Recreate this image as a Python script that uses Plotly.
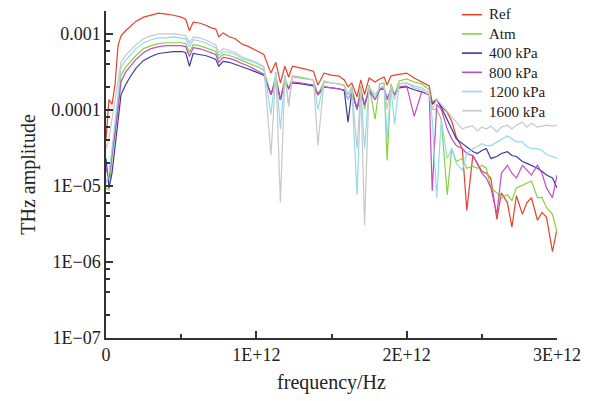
import plotly.graph_objects as go

# ---------------- data ----------------
freq_thz = [0.0, 0.02, 0.04, 0.06, 0.08, 0.1, 0.13, 0.16, 0.2, 0.25,
            0.3, 0.35, 0.4, 0.45, 0.5, 0.53, 0.555, 0.58, 0.62, 0.66,
            0.7, 0.73, 0.75, 0.78, 0.82, 0.86, 0.9, 0.95, 1.0, 1.05,
            1.097, 1.13, 1.16, 1.19, 1.215, 1.24, 1.3, 1.35, 1.38, 1.41,
            1.45, 1.5, 1.55, 1.585, 1.61, 1.635, 1.67, 1.695, 1.72, 1.75,
            1.79, 1.82, 1.85, 1.87, 1.895, 1.92, 1.95, 2.0, 2.05, 2.1,
            2.15, 2.17, 2.2, 2.23, 2.27, 2.3, 2.33, 2.37, 2.4, 2.44,
            2.47, 2.5, 2.53, 2.56, 2.6, 2.63, 2.67, 2.7, 2.73, 2.77,
            2.8, 2.83, 2.87, 2.9, 2.93, 2.97, 3.0]

ref = [4.16e-5, 1.37e-4, 1.18e-4, 2.13e-4, 7.0e-4, 9.42e-4, 1.10e-3, 1.23e-3, 1.47e-3, 1.66e-3,
       1.76e-3, 1.87e-3, 1.82e-3, 1.76e-3, 1.66e-3, 1.56e-3, 1.10e-3, 1.43e-3, 1.39e-3, 1.31e-3,
       1.20e-3, 1.16e-3, 9.15e-4, 1.03e-3, 9.15e-4, 8.62e-4, 7.43e-4, 6.80e-4, 6.04e-4, 5.36e-4,
       3.05e-4, 4.23e-4, 2.26e-4, 3.75e-4, 2.71e-4, 3.75e-4, 3.54e-4, 3.33e-4, 3.23e-4, 2.13e-4,
       3.05e-4, 2.87e-4, 2.79e-4, 2.48e-4, 2.01e-4, 2.26e-4, 1.49e-4, 2.48e-4, 1.59e-4, 2.63e-4,
       2.33e-4, 2.55e-4, 2.71e-4, 2.13e-4, 2.79e-4, 2.87e-4, 2.96e-4, 3.05e-4, 2.63e-4, 2.33e-4,
       2.07e-4, 1.25e-4, 1.37e-4, 1.11e-4, 9.28e-5, 7.1e-5, 4.42e-5, 3.1e-5, 4.76e-6, 2.51e-5,
       1.98e-5, 1.56e-5, 1.47e-5, 1.27e-5, 3.64e-6, 8.12e-6, 6.04e-6, 2.87e-6, 7.43e-6, 4.23e-6,
       6.04e-6, 7.0e-6, 3.54e-6, 4.48e-6, 3.87e-6, 1.37e-6, 2.71e-6]

atm = [9.42e-6, 8.88e-6, 2.3e-5, 5.6e-5, 1.18e-4, 2.87e-4, 3.64e-4, 4.23e-4, 5.2e-4, 6.40e-4,
       7.0e-4, 7.43e-4, 7.65e-4, 7.65e-4, 7.65e-4, 7.43e-4, 5.69e-4, 7.21e-4, 7.0e-4, 6.60e-4,
       6.22e-4, 5.86e-4, 4.76e-4, 5.36e-4, 5.2e-4, 4.90e-4, 4.48e-4, 4.10e-4, 3.75e-4, 3.33e-4,
       1.59e-4, 2.87e-4, 1.37e-4, 2.71e-4, 1.84e-4, 2.71e-4, 2.63e-4, 2.55e-4, 2.48e-4, 1.59e-4,
       2.33e-4, 2.26e-4, 2.20e-4, 2.13e-4, 1.59e-4, 2.01e-4, 1.02e-4, 2.07e-4, 1.02e-4, 2.13e-4,
       7.54e-5, 2.20e-4, 2.26e-4, 2.17e-5, 2.20e-4, 1.59e-4, 2.40e-4, 2.55e-4, 2.33e-4, 2.20e-4,
       1.84e-4, 1.02e-4, 1.02e-4, 7.54e-5, 7.65e-6, 3.1e-5, 2.1e-5, 2.3e-5, 1.71e-5, 1.82e-5,
       1.71e-5, 1.87e-5, 1.71e-5, 9.42e-6, 8.12e-6, 7.0e-6, 7.65e-6, 6.40e-6, 9.42e-6, 1.03e-5,
       1.09e-5, 1.16e-5, 7.0e-6, 7.0e-6, 5.2e-6, 4.23e-6, 2.48e-6]

kpa400 = [2.3e-5, 9.42e-6, 1.47e-5, 3.1e-5, 7.54e-5, 1.59e-4, 2.13e-4, 2.71e-4, 3.54e-4, 4.48e-4,
          5.05e-4, 5.52e-4, 5.69e-4, 5.86e-4, 5.86e-4, 5.69e-4, 3.75e-4, 5.52e-4, 5.36e-4, 5.2e-4,
          4.90e-4, 4.62e-4, 3.75e-4, 4.35e-4, 4.23e-4, 3.98e-4, 3.75e-4, 3.43e-4, 3.14e-4, 2.87e-4,
          1.59e-4, 2.48e-4, 1.37e-4, 2.33e-4, 1.95e-4, 2.26e-4, 2.20e-4, 2.13e-4, 2.07e-4, 1.59e-4,
          2.01e-4, 1.95e-4, 1.90e-4, 1.79e-4, 6.9e-5, 1.73e-4, 1.02e-4, 1.73e-4, 1.18e-4, 1.79e-4,
          1.37e-4, 1.84e-4, 1.90e-4, 1.37e-4, 1.84e-4, 1.59e-4, 1.95e-4, 2.01e-4, 1.84e-4, 1.73e-4,
          1.59e-4, 1.18e-4, 1.37e-4, 1.08e-4, 7.54e-5, 5.6e-5, 4.16e-5, 3.59e-5, 3.28e-5, 2.83e-5,
          2.67e-5, 2.92e-5, 3.1e-5, 2.3e-5, 2.44e-5, 2.67e-5, 2.83e-5, 2.51e-5, 2.44e-5, 2.1e-5,
          1.98e-5, 1.87e-5, 1.71e-5, 1.56e-5, 1.39e-5, 1.27e-5, 9.42e-6]

kpa800 = [1.71e-5, 1.27e-5, 2.67e-5, 4.83e-5, 1.02e-4, 2.33e-4, 3.14e-4, 3.75e-4, 4.62e-4, 5.69e-4,
          6.40e-4, 6.80e-4, 7.0e-4, 7.0e-4, 7.0e-4, 6.80e-4, 5.05e-4, 6.60e-4, 6.40e-4, 6.04e-4,
          5.69e-4, 5.36e-4, 4.23e-4, 4.90e-4, 4.76e-4, 4.48e-4, 4.10e-4, 3.75e-4, 3.33e-4, 2.96e-4,
          1.59e-4, 2.48e-4, 1.37e-4, 2.33e-4, 1.95e-4, 2.33e-4, 2.26e-4, 2.20e-4, 2.13e-4, 1.59e-4,
          2.01e-4, 1.95e-4, 1.90e-4, 1.84e-4, 1.37e-4, 1.73e-4, 1.02e-4, 1.73e-4, 1.18e-4, 1.84e-4,
          1.37e-4, 1.90e-4, 1.95e-4, 1.37e-4, 1.90e-4, 1.59e-4, 2.01e-4, 2.07e-4, 8.25e-5, 1.73e-4,
          1.59e-4, 8.62e-6, 1.18e-4, 1.02e-4, 5.6e-5, 4.16e-5, 3.40e-5, 3.1e-5, 2.67e-5, 2.51e-5,
          1.98e-5, 1.47e-5, 1.27e-5, 9.42e-6, 4.23e-6, 1.47e-5, 1.87e-5, 1.47e-5, 1.27e-5, 1.87e-5,
          1.61e-5, 1.39e-5, 1.87e-5, 1.47e-5, 9.42e-6, 7.0e-6, 1.39e-5]

kpa1200 = [1.09e-5, 1.47e-5, 3.1e-5, 6.5e-5, 1.59e-4, 3.64e-4, 4.48e-4, 5.2e-4, 6.40e-4, 7.65e-4,
           8.37e-4, 8.88e-4, 8.88e-4, 9.15e-4, 8.88e-4, 8.62e-4, 6.80e-4, 8.37e-4, 8.12e-4, 7.65e-4,
           7.0e-4, 6.60e-4, 5.2e-4, 5.86e-4, 5.69e-4, 5.36e-4, 4.76e-4, 4.48e-4, 4.10e-4, 3.64e-4,
           8.75e-5, 3.14e-4, 5.6e-5, 2.87e-4, 1.11e-4, 2.79e-4, 2.71e-4, 2.55e-4, 2.48e-4, 1.02e-4,
           2.40e-4, 2.26e-4, 2.20e-4, 2.07e-4, 1.37e-4, 1.95e-4, 7.65e-6, 1.95e-4, 3.1e-5, 2.01e-4,
           1.45e-4, 1.95e-4, 2.07e-4, 4.16e-5, 1.95e-4, 6.5e-5, 2.20e-4, 2.26e-4, 2.07e-4, 1.95e-4,
           1.68e-4, 7.54e-5, 7.0e-6, 7.54e-5, 2.3e-5, 3.1e-5, 1.98e-5, 1.61e-5, 2.67e-5, 3.1e-5,
           3.28e-5, 3.59e-5, 3.40e-5, 3.40e-5, 3.81e-5, 4.16e-5, 4.55e-5, 4.16e-5, 3.81e-5, 3.81e-5,
           3.28e-5, 3.1e-5, 3.1e-5, 2.92e-5, 2.59e-5, 2.44e-5, 2.3e-5]

kpa1600 = [3.1e-5, 4.16e-5, 7.54e-5, 1.37e-4, 2.48e-4, 4.23e-4, 5.2e-4, 6.04e-4, 7.21e-4, 8.62e-4,
           9.42e-4, 1.0e-3, 1.0e-3, 1.0e-3, 9.71e-4, 9.42e-4, 7.65e-4, 9.15e-4, 8.88e-4, 8.37e-4,
           7.65e-4, 7.21e-4, 5.69e-4, 6.40e-4, 6.04e-4, 5.69e-4, 5.05e-4, 4.62e-4, 4.23e-4, 3.75e-4,
           2.51e-5, 3.14e-4, 6.04e-6, 2.87e-4, 1.18e-4, 2.79e-4, 2.71e-4, 2.55e-4, 2.48e-4, 3.40e-5,
           2.40e-4, 2.26e-4, 2.20e-4, 2.07e-4, 1.59e-4, 1.95e-4, 3.1e-5, 1.95e-4, 3.05e-6, 2.01e-4,
           1.59e-4, 1.95e-4, 2.07e-4, 1.02e-4, 2.07e-4, 1.37e-4, 2.20e-4, 2.26e-4, 1.95e-4, 1.84e-4,
           1.59e-4, 1.02e-4, 1.37e-4, 1.18e-4, 9.56e-5, 8.25e-5, 7.1e-5, 5.6e-5, 5.95e-5, 6.13e-5,
           5.28e-5, 5.95e-5, 5.6e-5, 6.13e-5, 5.12e-5, 5.95e-5, 6.31e-5, 5.6e-5, 6.31e-5, 6.9e-5,
           5.95e-5, 6.7e-5, 5.95e-5, 6.13e-5, 6.31e-5, 6.13e-5, 6.31e-5]

series_names = ["Ref", "Atm", "400 kPa", "800 kPa", "1200 kPa", "1600 kPa"]
series_values = [ref, atm, kpa400, kpa800, kpa1200, kpa1600]
series_colors = ["#e8412c", "#86d23c", "#3b3b9e", "#c44ac6", "#92dbe9", "#c8c8c8"]

y_tick_vals = [1e-7, 1e-6, 1e-5, 1e-4, 1e-3]
y_tick_text = ["1E\u221207", "1E\u221206", "1E\u221205", "0.0001", "0.001"]
x_tick_vals_thz = [0, 1, 2, 3]
x_tick_text = ["0", "1E+12", "2E+12", "3E+12"]

# ---------------- figure ----------------
freq_hz = [f * 1e12 for f in freq_thz]
FONT = "Liberation Serif, Times New Roman, serif"

fig = go.Figure()
for name, vals, col in zip(series_names, series_values, series_colors):
    fig.add_trace(go.Scatter(x=freq_hz, y=vals, mode="lines", name=name,
                             line=dict(color=col, width=1.2), showlegend=False))

minor_y = [m * 10.0 ** e for e in range(-7, -2) for m in (2, 4, 6, 8)]
minor_y = [v for v in minor_y if v <= 2.0e-3]

fig.update_layout(
    width=592, height=401,
    margin=dict(l=106, r=35, t=11, b=58),
    paper_bgcolor="white", plot_bgcolor="white",
    font=dict(family=FONT, size=18, color="#222"),
)
fig.update_xaxes(
    range=[0, 3e12], showline=True, linecolor="#333", linewidth=1.5,
    showgrid=False, zeroline=False, mirror=False,
    ticks="inside", ticklen=7, tickwidth=1.5, tickcolor="#333",
    tickvals=[v * 1e12 for v in x_tick_vals_thz], ticktext=x_tick_text,
    tickfont=dict(family=FONT, size=18),
    minor=dict(tickmode="array", tickvals=[0.5e12, 1.5e12, 2.5e12],
               ticks="inside", ticklen=4, tickwidth=1.5, tickcolor="#333", showgrid=False),
    title=dict(text="frequency/Hz", font=dict(family=FONT, size=20), standoff=11),
)
fig.update_yaxes(
    type="log", range=[-7, -2.699], showline=True, linecolor="#333", linewidth=1.5,
    showgrid=False, zeroline=False, mirror=False,
    ticks="inside", ticklen=7, tickwidth=1.5, tickcolor="#333",
    tickvals=y_tick_vals, ticktext=y_tick_text,
    tickfont=dict(family=FONT, size=18),
    minor=dict(tickmode="array", tickvals=minor_y,
               ticks="inside", ticklen=4, tickwidth=1.5, tickcolor="#333", showgrid=False),
    title=dict(text="THz amplitude", font=dict(family=FONT, size=20), standoff=10),
)

# manual legend (tight line spacing as in the reference), one multi-line text block
plot_l, plot_r, plot_t, plot_b = 106, 557, 11, 343
def px_x(p):
    return (p - plot_l) / (plot_r - plot_l)
def px_y(p):
    return (plot_b - p) / (plot_b - plot_t)

LEG_SIZE = 15
row_h = LEG_SIZE * 1.3
top_px = 4
fig.add_annotation(xref="paper", yref="paper", x=px_x(487), y=px_y(top_px),
                   text="<br>".join(series_names), showarrow=False,
                   xanchor="left", yanchor="top", align="left",
                   font=dict(family=FONT, size=LEG_SIZE, color="#222"))
for i, col in enumerate(series_colors):
    yc = top_px + 1 + row_h * (i + 0.5)
    fig.add_shape(type="line", xref="paper", yref="paper",
                  x0=px_x(462), x1=px_x(482), y0=px_y(yc), y1=px_y(yc),
                  line=dict(color=col, width=1.6))

fig.write_html("out.html")
